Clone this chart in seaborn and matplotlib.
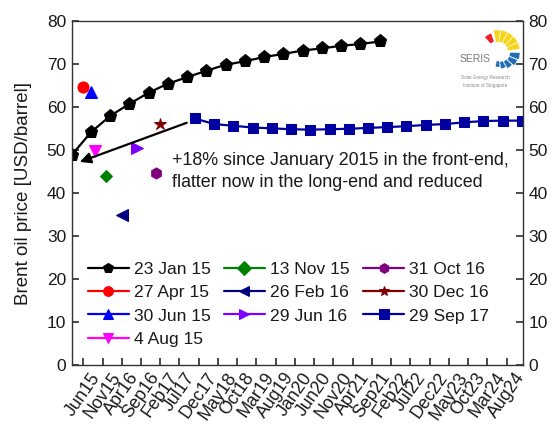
import matplotlib
matplotlib.use("Agg")
import matplotlib.pyplot as plt
from matplotlib.patches import Wedge
import seaborn as sns
import pandas as pd

# Contract month index: months after Jan 2015 (Jan15 = 0)
jan15_months = [2, 7, 12, 17, 22, 27, 32, 37, 42, 47, 52, 57, 62, 67, 72, 77, 82]
jan15_prices = [48.9, 54.2, 58.0, 60.8, 63.4, 65.5, 67.0, 68.5, 69.9, 70.7,
                71.7, 72.4, 73.2, 73.7, 74.3, 74.7, 75.3]

sep17_months = [34, 39, 44, 49, 54, 59, 64, 69, 74, 79, 84, 89, 94, 99, 104,
                109, 114, 119]
sep17_prices = [57.4, 56.1, 55.7, 55.3, 55.1, 54.9, 54.8, 54.9, 55.0, 55.2,
                55.4, 55.6, 55.9, 56.1, 56.5, 56.8, 56.9, 56.9]

# Front-month price on other trading dates
spot_labels = ["27 Apr 15", "30 Jun 15", "4 Aug 15", "13 Nov 15", "26 Feb 16",
               "29 Jun 16", "31 Oct 16", "30 Dec 16"]
spot_months = [5, 7, 8, 11, 15, 19, 24, 25]
spot_prices = [64.7, 63.6, 49.8, 44.0, 35.0, 50.5, 44.7, 56.0]
spot_colors = ["#ff0000", "#0000ff", "#ff00ff", "#008000", "#000080",
               "#8000ff", "#800080", "#800000"]
spot_markers = ["o", "^", "v", "D", "<", ">", "h", "*"]
spot_sizes = [8, 8, 8, 6.5, 8, 8, 8, 9]

tick_months = [5, 10, 15, 20, 25, 30, 35, 40, 45, 50, 55, 60, 65, 70, 75, 80,
               85, 90, 95, 100, 105, 110, 115]
tick_labels = ["Jun15", "Nov15", "Apr16", "Sep16", "Feb17", "Jul17", "Dec17",
               "May18", "Oct18", "Mar19", "Aug19", "Jan20", "Jun20", "Nov20",
               "Apr21", "Sep21", "Feb22", "Jul22", "Dec22", "May23", "Oct23",
               "Mar24", "Aug24"]
y_ticks = [0, 10, 20, 30, 40, 50, 60, 70, 80]

sns.set_theme(style="ticks")
plt.rcParams["font.family"] = ["Liberation Sans", "DejaVu Sans"]
plt.rcParams["text.color"] = "#1a1a1a"
plt.rcParams["axes.labelcolor"] = "#1a1a1a"
plt.rcParams["xtick.color"] = "#333333"
plt.rcParams["ytick.color"] = "#333333"
plt.rcParams["xtick.labelcolor"] = "#1a1a1a"
plt.rcParams["ytick.labelcolor"] = "#1a1a1a"

fig = plt.figure(figsize=(5.53, 4.24), dpi=100)
ax = fig.add_axes([0.1297, 0.1384, 0.8155, 0.8114])

jan_df = pd.DataFrame({"month": jan15_months, "price": jan15_prices})
sep_df = pd.DataFrame({"month": sep17_months, "price": sep17_prices})

sns.lineplot(data=jan_df, x="month", y="price", ax=ax, color="black",
             marker="p", markersize=9.5, markeredgecolor="black",
             linewidth=1.6, label="23 Jan 15")
for lab, m, p, c, mk, ms in zip(spot_labels, spot_months, spot_prices,
                                 spot_colors, spot_markers, spot_sizes):
    sns.lineplot(x=[m], y=[p], ax=ax, color=c, marker=mk, markersize=ms,
                 markeredgecolor=c, linewidth=1.6, label=lab)
sns.lineplot(data=sep_df, x="month", y="price", ax=ax, color="#0000a0",
             marker="s", markersize=7, markeredgecolor="#0000a0",
             linewidth=1.6, label="29 Sep 17")

ax.annotate("", xy=(4.1, 47.3), xytext=(31.9, 56.4),
            arrowprops=dict(arrowstyle="-|>", color="black", lw=1.6,
                            mutation_scale=16, shrinkA=0, shrinkB=0))
ax.text(28.0, 49.6,
        "+18% since January 2015 in the front-end,\n"
        "flatter now in the long-end and reduced",
        fontsize=12.9, ha="left", va="top", linespacing=1.4,
        transform=ax.transData)

ax.set_xlim(2, 119.2)
ax.set_ylim(0, 80)
ax.set_xticks(tick_months)
ax.set_xticklabels(tick_labels, rotation=55, ha="center", fontsize=12.8)
ax.set_yticks(y_ticks)
ax.tick_params(axis="y", labelsize=12.5, direction="in", length=5,
               left=True, right=True, labelleft=True, labelright=True, pad=4)
ax.tick_params(axis="x", direction="in", length=5, pad=3, top=False)
ax.set_xlabel("")
ax.set_ylabel("Brent oil price [USD/barrel]", fontsize=13.5, labelpad=11)
for s in ax.spines.values():
    s.set_visible(True)
    s.set_color("#333333")
    s.set_linewidth(1.0)

leg = ax.legend(ncol=3, loc="upper left", bbox_to_anchor=(0.035, 0.30),
                frameon=False, fontsize=12.6, handlelength=2.35,
                handletextpad=0.3, columnspacing=0.75, labelspacing=0.45,
                borderaxespad=0, borderpad=0)
for h in leg.legend_handles:
    h.set_markersize(7)

# SERIS logo
lax = fig.add_axes([450 / 553, 1 - 95 / 424, 70 / 553, 70 / 424])
lax.set_xlim(0, 70)
lax.set_ylim(0, 70)
lax.axis("off")
cx, cy = 48, 43
lax.add_patch(Wedge((cx, cy), 20, 110, 132, width=9, facecolor="#e8202a",
                    edgecolor="white", linewidth=0.3))
for a0 in [84, 65, 46, 27, 8]:
    lax.add_patch(Wedge((cx, cy), 22, a0, a0 + 18, width=12,
                        facecolor="#f7d417", edgecolor="white",
                        linewidth=0.3))
for a0, r, w in zip([-2, -22, -42, -62, -82],
                    [22, 21, 19, 17, 15], [10, 9, 8, 7, 6]):
    lax.add_patch(Wedge((cx, cy), r, a0 - 18, a0, width=w,
                        facecolor="#1f6db3", edgecolor="white",
                        linewidth=0.3))
lax.text(25, 36, "SERIS", fontsize=7.5, color="#7a7a7a", ha="center",
         va="center")
lax.text(35, 17, "Solar Energy Research", fontsize=3.3, color="#8a8a8a",
         ha="center", va="center")
lax.text(35, 9, "Institute of Singapore", fontsize=3.3, color="#8a8a8a",
         ha="center", va="center")

fig.savefig("out.png", dpi=100)
